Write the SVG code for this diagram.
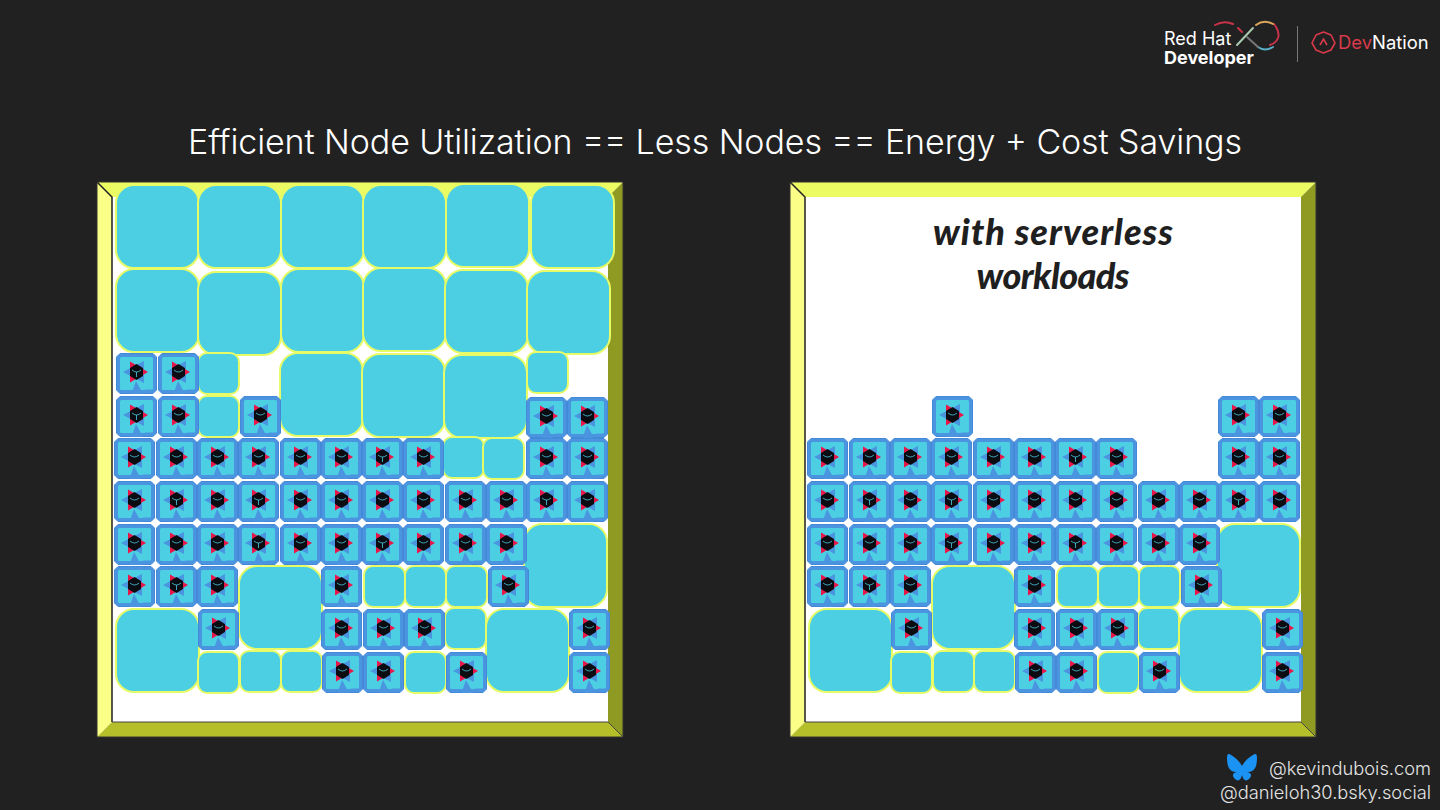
<svg xmlns="http://www.w3.org/2000/svg" width="1440" height="810" viewBox="0 0 1440 810">
<style>
.t{font-family:"Inter","Liberation Sans",sans-serif;fill:#fff}
.h{font-family:"Lato","Noto Sans",sans-serif;font-weight:900;font-style:italic;fill:#1f1f1f;font-size:36px;text-anchor:middle}
.s{font-family:"Inter","Liberation Sans",sans-serif;font-weight:300;fill:#e4e4e4;font-size:18.300px;text-anchor:end}
.arc{fill:none;stroke-width:2;stroke-linecap:round}
</style>
<defs>
<g id="pod">
<path d="M4 .5H37L40.500 4V37L37 40.500H4L.5 37V4Z" fill="#4b94e0" stroke="#4488d8"/>
<rect x="4" y="4" width="33" height="33" rx="1.500" fill="#4ccfe3"/>
<path d="M20 28L15.500 41H27Z" fill="#4b94e0"/>
<path d="M29 36.500H37V40H29Z" fill="#4b94e0"/>
<path d="M7 19L28 8V30Z" fill="#4b94e0"/>
<path d="M14 8.500L32 19L14 29.500Z" fill="#e8174a"/>
<path d="M20.500 11L27 15V23L20.500 27L14 23V15Z" fill="#0b0b12"/>
<path d="M16 17Q20.500 21 25 17" fill="none" stroke="#4ccfe3" stroke-width=".8"/>
</g>
<g id="podb">
<use href="#pod"/>
<path d="M20.500 19V24" fill="none" stroke="#4ccfe3" stroke-width=".8"/>
</g>
<rect id="L" width="83" height="83" rx="18" fill="#4ccfe3" stroke="#e6fb66" stroke-width="2"/>
<rect id="S" width="41" height="41" rx="9" fill="#4ccfe3" stroke="#e6fb66" stroke-width="2"/>
<g id="frame">
<rect x="0" y="0" width="526" height="555" fill="#fff"/>
<path d="M0 0H526L511 15H15Z" fill="#ecfb62"/>
<path d="M0 0L15 15V540L0 555Z" fill="#fbff88"/>
<path d="M526 0V555L511 540V15Z" fill="#8f9a22"/>
<path d="M0 555L15 540H511L526 555Z" fill="#b5bf2a"/>
<path d="M0 0H526V555H0Z" fill="none" stroke="#333" stroke-width="1"/>
<path d="M0 0L15 15V540" fill="none" stroke="#222" stroke-width="1.500"/>
<path d="M15 540H511L526 555" fill="none" stroke="#444" stroke-width="1"/>
</g>
</defs>
<rect width="1440" height="810" fill="#212121"/>
<text id="title" class="t" x="188" y="154" font-size="34" font-weight="300" textLength="1054">Efficient Node Utilization == Less Nodes == Energy + Cost Savings</text>

<g id="logo">
<text class="t" x="1164" y="45" font-size="18">Red Hat</text>
<text class="t" x="1164" y="64" font-size="18" font-weight="700">Developer</text>
<path class="arc" stroke="#c8334a" d="M1215 25Q1224 20 1233 24M1238 28L1242 32M1274 24Q1280 32 1278 38Q1276 43 1270 45"/>
<path class="arc" stroke="#d9a65a" d="M1256 25Q1264 19 1273 24"/>
<path class="arc" stroke="#5ab0c8" d="M1258 47Q1265 52 1273 47"/>
<path class="arc" stroke="#a9c9b0" d="M1237 45L1253 28"/>
<path class="arc" stroke="#777" stroke-width="1" d="M1247 37L1258 47"/>
<rect x="1297" y="26" width="1" height="36" fill="#777"/>
<path d="M1323.500 32L1331 35L1335 43L1331 50L1323.500 53L1316 50L1312 43L1316 35Z" fill="none" stroke="#d83a4b" stroke-width="1.600" stroke-linejoin="round"/>
<path d="M1320 45L1323.500 39L1327 45" fill="none" stroke="#d83a4b" stroke-width="1.600"/>
<text x="1338" y="49" font-size="18.400" font-family="Inter,'Liberation Sans',sans-serif" fill="#d83a4b">Dev<tspan fill="#fff">Nation</tspan></text>
</g>

<g id="left-panel">
<use href="#frame" x="97" y="182"/>
<g id="left-free">
<use href="#L" x="116" y="185"/><use href="#L" x="198" y="185"/><use href="#L" x="281" y="185"/><use href="#L" x="363" y="185"/><use href="#L" x="446" y="184"/><use href="#L" x="531" y="185"/>
<use href="#L" x="116" y="269"/><use href="#L" x="198" y="272"/><use href="#L" x="281" y="269"/><use href="#L" x="363" y="268"/><use href="#L" x="445" y="270"/><use href="#L" x="527" y="271"/>
<use href="#L" x="280" y="353"/><use href="#L" x="362" y="354"/><use href="#L" x="444" y="355"/>
<use href="#L" x="524" y="524"/><use href="#L" x="239" y="566"/><use href="#L" x="116" y="609"/><use href="#L" x="486" y="609"/>
<use href="#S" x="198" y="353"/><use href="#S" x="527" y="352"/><use href="#S" x="198" y="396"/><use href="#S" x="443" y="437"/><use href="#S" x="483" y="438"/>
<use href="#S" x="364" y="566"/><use href="#S" x="405" y="566"/><use href="#S" x="446" y="566"/><use href="#S" x="445" y="608"/>
<use href="#S" x="198" y="652"/><use href="#S" x="240" y="651"/><use href="#S" x="281" y="651"/><use href="#S" x="405" y="652"/>
</g>
<g id="left-pods">
<use href="#podb" x="116" y="353"/><use href="#pod" x="158" y="353"/>
<use href="#podb" x="116" y="396"/><use href="#pod" x="158" y="396"/><use href="#pod" x="240" y="396"/><use href="#pod" x="526" y="397"/><use href="#pod" x="567" y="397"/>
<use href="#pod" x="114" y="438"/><use href="#pod" x="156" y="438"/><use href="#pod" x="197" y="438"/><use href="#pod" x="238" y="438"/><use href="#pod" x="280" y="438"/><use href="#pod" x="321" y="438"/><use href="#podb" x="362" y="438"/><use href="#pod" x="403" y="438"/><use href="#pod" x="526" y="438"/><use href="#pod" x="567" y="438"/>
<use href="#pod" x="114" y="481"/><use href="#podb" x="156" y="481"/><use href="#pod" x="197" y="481"/><use href="#podb" x="238" y="481"/><use href="#pod" x="280" y="481"/><use href="#pod" x="321" y="481"/><use href="#pod" x="362" y="481"/><use href="#pod" x="403" y="481"/><use href="#pod" x="445" y="481"/><use href="#pod" x="486" y="481"/><use href="#podb" x="526" y="481"/><use href="#pod" x="567" y="481"/>
<use href="#pod" x="114" y="524"/><use href="#pod" x="156" y="524"/><use href="#pod" x="197" y="524"/><use href="#podb" x="238" y="524"/><use href="#pod" x="280" y="524"/><use href="#pod" x="321" y="524"/><use href="#podb" x="362" y="524"/><use href="#pod" x="403" y="524"/><use href="#pod" x="445" y="524"/><use href="#pod" x="486" y="524"/>
<use href="#pod" x="114" y="566"/><use href="#podb" x="156" y="566"/><use href="#pod" x="197" y="566"/><use href="#pod" x="321" y="566"/><use href="#pod" x="488" y="566"/>
<use href="#pod" x="198" y="609"/><use href="#pod" x="321" y="609"/><use href="#pod" x="363" y="609"/><use href="#pod" x="404" y="609"/><use href="#pod" x="569" y="609"/>
<use href="#pod" x="322" y="652"/><use href="#pod" x="363" y="652"/><use href="#pod" x="446" y="652"/><use href="#pod" x="569" y="652"/>
</g>
</g>

<g id="right-panel">
<use href="#frame" x="790" y="182"/>
<text class="h" x="1053" y="245" textLength="240">with serverless</text>
<text class="h" x="1053" y="289" textLength="153">workloads</text>
<g id="right-free">
<use href="#L" x="1217" y="524"/><use href="#L" x="932" y="566"/><use href="#L" x="809" y="609"/><use href="#L" x="1179" y="609"/>
<use href="#S" x="1057" y="566"/><use href="#S" x="1098" y="566"/><use href="#S" x="1139" y="566"/><use href="#S" x="1138" y="608"/>
<use href="#S" x="891" y="652"/><use href="#S" x="933" y="651"/><use href="#S" x="974" y="651"/><use href="#S" x="1098" y="652"/>
</g>
<g id="right-pods">
<use href="#pod" x="932" y="396"/><use href="#pod" x="1218" y="396"/><use href="#pod" x="1259" y="396"/>
<use href="#pod" x="807" y="438"/><use href="#pod" x="849" y="438"/><use href="#pod" x="890" y="438"/><use href="#pod" x="931" y="438"/><use href="#pod" x="973" y="438"/><use href="#pod" x="1014" y="438"/><use href="#podb" x="1055" y="438"/><use href="#pod" x="1096" y="438"/><use href="#pod" x="1218" y="438"/><use href="#pod" x="1259" y="438"/>
<use href="#pod" x="807" y="481"/><use href="#podb" x="849" y="481"/><use href="#pod" x="890" y="481"/><use href="#podb" x="931" y="481"/><use href="#pod" x="973" y="481"/><use href="#pod" x="1014" y="481"/><use href="#pod" x="1055" y="481"/><use href="#pod" x="1096" y="481"/><use href="#pod" x="1138" y="481"/><use href="#pod" x="1179" y="481"/><use href="#podb" x="1218" y="481"/><use href="#pod" x="1259" y="481"/>
<use href="#pod" x="807" y="524"/><use href="#pod" x="849" y="524"/><use href="#pod" x="890" y="524"/><use href="#podb" x="931" y="524"/><use href="#pod" x="973" y="524"/><use href="#pod" x="1014" y="524"/><use href="#podb" x="1055" y="524"/><use href="#pod" x="1096" y="524"/><use href="#pod" x="1138" y="524"/><use href="#pod" x="1179" y="524"/>
<use href="#pod" x="807" y="566"/><use href="#podb" x="849" y="566"/><use href="#pod" x="890" y="566"/><use href="#pod" x="1014" y="566"/><use href="#pod" x="1181" y="566"/>
<use href="#pod" x="891" y="609"/><use href="#pod" x="1014" y="609"/><use href="#pod" x="1056" y="609"/><use href="#pod" x="1097" y="609"/><use href="#pod" x="1262" y="609"/>
<use href="#pod" x="1015" y="652"/><use href="#pod" x="1056" y="652"/><use href="#pod" x="1139" y="652"/><use href="#pod" x="1262" y="652"/>
</g>
</g>

<g id="credits">
<path d="M1242 766C1239 760 1232 755 1229 754C1226 753 1227 762 1228 766C1230 771 1233 772 1237 772C1232 773 1232 776 1235 779C1238 782 1241 780 1242 775C1243 780 1246 782 1249 779C1252 776 1252 773 1247 772C1251 772 1254 771 1256 766C1257 762 1258 753 1255 754C1252 755 1245 760 1242 766Z" fill="#1b93f5"/>
<text class="s" x="1431" y="775">@kevindubois.com</text>
<text class="s" x="1431" y="799">@danieloh30.bsky.social</text>
</g>
</svg>
